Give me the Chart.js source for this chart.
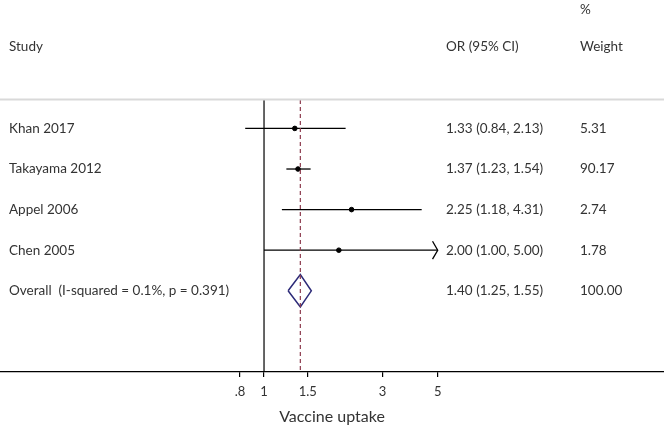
<!DOCTYPE html>
<html>
<head>
<meta charset="utf-8">
<script src="https://cdn.jsdelivr.net/npm/chart.js@4/dist/chart.umd.min.js"></script>
<style>
html,body{margin:0;padding:0;background:#fff;}
#wrap{width:664px;height:426px;position:relative;}
</style>
</head>
<body>
<div id="wrap"><canvas id="c" width="664" height="426"></canvas></div>
<script>
const studies = ["Khan 2017", "Takayama 2012", "Appel 2006", "Chen 2005"];
const orEst = [1.33, 1.37, 2.25, 2.00];
const ciLow = [0.84, 1.23, 1.18, 1.00];
const ciHigh = [2.13, 1.54, 4.31, 5.00];
const weights = ["5.31", "90.17", "2.74", "1.78"];
const overallLabel = "Overall  (I-squared = 0.1%, p = 0.391)";
const overall = {est: 1.40, lo: 1.25, hi: 1.55, weight: "100.00"};
const tickValues = [0.8, 1, 1.5, 3, 5];
const tickLabels = [".8", "1", "1.5", "3", "5"];
const axisMax = 5;

const FONT = "Lato, 'Open Sans', sans-serif";
const datasets = [];
datasets.push({type:'line', data:[{x:1,y:0.3},{x:1,y:7}], borderColor:'#000', borderWidth:1.2, pointRadius:0});
datasets.push({type:'line', data:[{x:overall.est,y:0.3},{x:overall.est,y:7}], borderColor:'#8c3a4d', borderWidth:1.2, borderDash:[4,3], pointRadius:0});
studies.forEach((s,i)=>{
  const row = i+1;
  datasets.push({type:'line', data:[{x:ciLow[i],y:row},{x:Math.min(ciHigh[i],axisMax),y:row}], borderColor:'#000', borderWidth:1.3, pointRadius:0});
  if (ciHigh[i] >= axisMax) {
    const back = axisMax*Math.exp(-0.048);
    datasets.push({type:'line', data:[{x:back,y:row-0.22},{x:axisMax,y:row},{x:back,y:row+0.22}], borderColor:'#000', borderWidth:1.3, pointRadius:0});
  }
});
datasets.push({type:'scatter', data:orEst.map((v,i)=>({x:v,y:i+1})), backgroundColor:'#000', borderColor:'#000', pointRadius:2.3, pointStyle:'circle'});
const orow = studies.length+1;
datasets.push({type:'line', data:[{x:overall.lo,y:orow},{x:overall.est,y:orow-0.4},{x:overall.hi,y:orow},{x:overall.est,y:orow+0.4},{x:overall.lo,y:orow}], borderColor:'#2c2a78', borderWidth:1.5, pointRadius:0, fill:false});

const textPlugin = {
  id:'txt',
  afterDraw(chart){
    const ctx = chart.ctx, ys = chart.scales.y;
    ctx.save();
    ctx.fillStyle = '#333';
    ctx.strokeStyle = '#d9d9d9';
    ctx.lineWidth = 2;
    ctx.beginPath(); ctx.moveTo(0,99.5); ctx.lineTo(664,99.5); ctx.stroke();
    ctx.font = "13.5px " + FONT;
    ctx.textBaseline = 'middle';
    ctx.textAlign = 'left';
    ctx.fillText("%", 580, 10);
    ctx.fillText("Study", 9, 47);
    ctx.fillText("OR (95% CI)", 446, 47);
    ctx.fillText("Weight", 580, 47);
    const fmt = v => v.toFixed(2);
    studies.forEach((s,i)=>{
      const y = ys.getPixelForValue(i+1);
      ctx.fillText(s, 9, y);
      ctx.fillText(fmt(orEst[i]) + " (" + fmt(ciLow[i]) + ", " + fmt(ciHigh[i]) + ")", 446, y);
      ctx.fillText(weights[i], 580, y);
    });
    const y = ys.getPixelForValue(orow);
    ctx.fillText(overallLabel, 9, y);
    ctx.fillText(fmt(overall.est) + " (" + fmt(overall.lo) + ", " + fmt(overall.hi) + ")", 446, y);
    ctx.fillText(overall.weight, 580, y);
    ctx.restore();
  }
};

new Chart(document.getElementById('c'), {
  data:{datasets},
  plugins:[textPlugin],
  options:{
    responsive:false, animation:false,
    layout:{autoPadding:false, padding:{top:100,left:0,right:0,bottom:0}},
    plugins:{legend:{display:false}, tooltip:{enabled:false}},
    scales:{
      x:{type:'logarithmic', min:0.0866, max:40.7,
        afterBuildTicks(axis){ axis.ticks = tickValues.map(v=>({value:v})); },
        afterFit(axis){ axis.height = 54; },
        ticks:{color:'#333', font:{family:FONT,size:13,lineHeight:1.2}, padding:7, autoSkip:false, maxRotation:0,
          callback(v){ const i = tickValues.indexOf(v); return i>=0 ? tickLabels[i] : ''; }},
        grid:{drawOnChartArea:false, drawTicks:true, tickLength:5, color:'#000', lineWidth:1.2},
        border:{display:true, color:'#000', width:1.2},
        title:{display:true, text:'Vaccine uptake', color:'#333', font:{family:FONT,size:16,lineHeight:1.2}, padding:{top:0,bottom:0}}
      },
      y:{type:'linear', min:0.3, max:7, reverse:true, display:false}
    }
  }
});
</script>
</body>
</html>
